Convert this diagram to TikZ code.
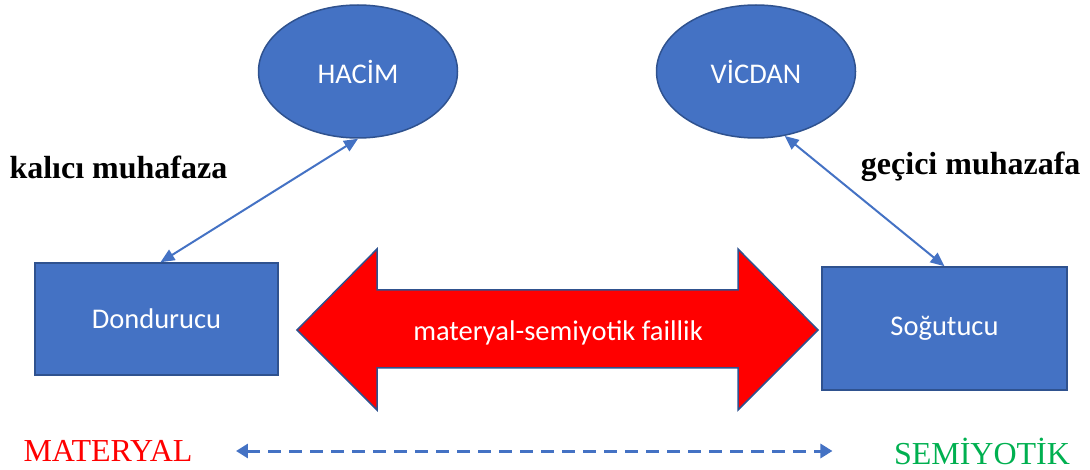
\documentclass[tikz,border=0pt]{standalone}
\usepackage{fontspec}
\setmainfont{Liberation Serif}
\newfontfamily\calibri{Carlito}
\usetikzlibrary{arrows.meta,shapes.geometric}
\definecolor{ofismavi}{HTML}{4472C4}
\definecolor{kenarmavi}{HTML}{2F528F}
\definecolor{ofisyesil}{HTML}{00B050}
\tikzset{
    sekil/.style={draw=kenarmavi, line width=1.5pt, fill=ofismavi, text=white,
        font=\calibri\fontsize{28.5}{32}\selectfont},
    baglanti/.style={draw=ofismavi, line width=2pt, {Triangle[length=14pt,width=12pt]}-{Triangle[length=14pt,width=12pt]}},
    etiket/.style={font=\bfseries\fontsize{32}{36}\selectfont},
    uc/.style={font=\fontsize{32}{36}\selectfont}
}
\begin{document}
\begin{tikzpicture}[x=1pt,y=-1pt]
        \useasboundingbox (0,0) rectangle (1090,470);
        % Elipsler
        \node[sekil, ellipse, minimum width=199pt, minimum height=133pt] (hacim) at (358,71.5) {HACİM};
        \node[sekil, ellipse, minimum width=199pt, minimum height=133pt] (vicdan) at (756,71.5) {VİCDAN};
    
        % Kutular
        \node[sekil, rectangle, minimum width=243pt, minimum height=112pt] (dond) at (156.5,319) {Dondurucu};
        \node[sekil, rectangle, minimum width=245pt, minimum height=123pt] (sogut) at (944.5,328.5) {Soğutucu};

        \draw[baglanti] (dond.86) -- (hacim.south);
        \draw[baglanti] (vicdan.-66) -- (sogut.north);

        \node[etiket, anchor=west] (kalici) at (6,167) {kalıcı muhafaza};
        \node[etiket, anchor=east] (gecici) at (1084,167) {geçici muhazafa};

        % Buyuk ok
        \draw[draw=kenarmavi, line width=1.5pt, fill=red]
            (297,330) -- (377,249) -- (377,290) -- (738,290) -- (738,249) -- (818,330)
            -- (738,410) -- (738,368) -- (377,368) -- (377,410) -- cycle;
        \node[text=white, font=\calibri\fontsize{28.5}{32}\selectfont] (faillik) at (558,333) {materyal-semiyotik faillik};

        % Alt satir
        \node[uc, text=red] (mat) at (108,451) {MATERYAL};
        \node[uc, text=ofisyesil] (sem) at (982,451) {SEMİYOTİK};
        \draw[draw=ofismavi, line width=3pt, dash pattern=on 13pt off 8pt,
            {Triangle[length=12pt,width=14pt]}-{Triangle[length=12pt,width=14pt]},
            shorten <=40pt, shorten >=58pt] (mat) -- (sem);
    \end{tikzpicture}
\end{document}
